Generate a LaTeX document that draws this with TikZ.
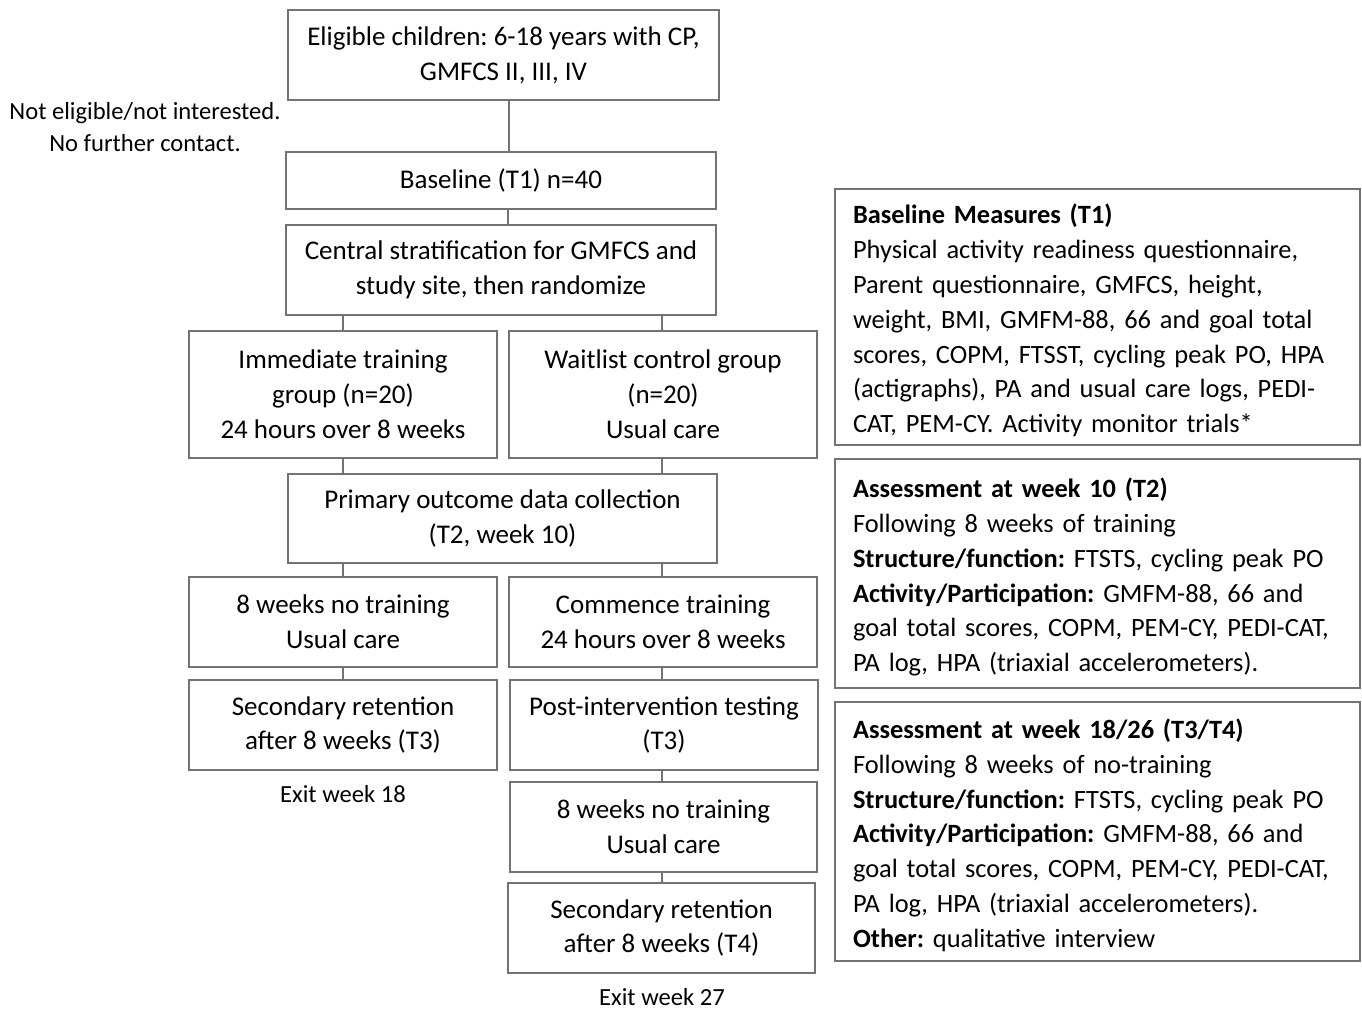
\documentclass[tikz,border=0pt]{standalone}
\usepackage{fontspec}
\setmainfont{Carlito}
\usetikzlibrary{calc}
\begin{document}
\begin{tikzpicture}[x=1pt,y=-1pt,
  every node/.style={font=\fontsize{27}{34.8}\selectfont\frenchspacing, text=black, inner sep=0pt},
  flowbox/.style={draw=black!55, line width=1.3pt, align=center, minimum width=#1},
  flowbox/.default=308,
  infobox/.style={draw=black!55, line width=1.3pt, align=left, text width=489, minimum width=525, inner xsep=18pt,
    font=\fontsize{26.4}{34.8}\selectfont\frenchspacing, execute at begin node={\rule{0pt}{27pt}}},
  link/.style={draw=black!55, line width=1.3pt},
  plain/.style={align=center, font=\fontsize{24.6}{32}\selectfont\frenchspacing}]
\useasboundingbox (0,0) rectangle (1362,1009);
\fill[white] (0,0) rectangle (1362,1009);

% left flow
\node[flowbox=431, minimum height=90] (elig) at (503.5,55) {Eligible children: 6-18 years with CP,\\GMFCS II, III, IV};
\node[plain] (notel) at (145,127) {Not eligible/not interested.\\No further contact.};
\node[flowbox=430, minimum height=57] (base) at (501,180.5) {Baseline (T1) n=40};
\node[flowbox=430, minimum height=90] (strat) at (501,270) {Central stratification for GMFCS and\\study site, then randomize};
\node[flowbox, minimum height=127] (imm) at (343,394.5) {Immediate training\\group (n=20)\\24 hours over 8 weeks};
\node[flowbox, minimum height=127] (wait) at (663,394.5) {Waitlist control group\\(n=20)\\Usual care};
\node[flowbox=429, minimum height=89] (prim) at (502.5,518.5) {Primary outcome data collection\\(T2, week 10)};
\node[flowbox, minimum height=90] (nt1) at (343,622) {8 weeks no training\\Usual care};
\node[flowbox, minimum height=90] (comm) at (663,622) {Commence training\\24 hours over 8 weeks};
\node[flowbox, minimum height=90] (sec1) at (343,725) {Secondary retention\\after 8 weeks (T3)};
\node[flowbox, minimum height=90] (post) at (664,725) {Post-intervention testing\\(T3)};
\node[flowbox=307, minimum height=90] (nt2) at (663.5,827) {8 weeks no training\\Usual care};
\node[flowbox=307, minimum height=90] (sec2) at (661.5,928) {Secondary retention\\after 8 weeks (T4)};
\node[plain] (exit18) at (343,794) {Exit week 18};
\node[plain] (exit27) at (662,997) {Exit week 27};

% connectors
\draw[link] ([xshift=5.5pt]elig.south) -- ([xshift=5.5pt]elig.south |- base.north);
\draw[link] ([xshift=7pt]base.south) -- ([xshift=7pt]base.south |- strat.north);
\draw[link] (imm.north |- strat.south) -- (imm.north);
\draw[link] ([xshift=-1pt]wait.north |- strat.south) -- ([xshift=-1pt]wait.north);
\draw[link] (imm.south) -- (imm.south |- prim.north);
\draw[link] ([xshift=-1pt]wait.south) -- ([xshift=-1pt]wait.south |- prim.north);
\draw[link] (nt1.north |- prim.south) -- (nt1.north);
\draw[link] ([xshift=-1pt]comm.north |- prim.south) -- ([xshift=-1pt]comm.north);
\draw[link] (nt1.south) -- (nt1.south |- sec1.north);
\draw[link] ([xshift=-1pt]comm.south) -- ([xshift=-1pt]comm.south |- post.north);
\draw[link] ([xshift=-2pt]post.south) -- ([xshift=-2pt]post.south |- nt2.north);
\draw[link] ([xshift=-1.5pt]nt2.south) -- ([xshift=-1.5pt]nt2.south |- sec2.north);

% right info boxes
\node[infobox, minimum height=256] (m1) at (1097.5,317) {\textbf{Baseline Measures (T1)}\\
Physical activity readiness questionnaire,\\
Parent questionnaire, GMFCS, height,\\
weight, BMI, GMFM-88, 66 and goal total\\
scores, COPM, FTSST, cycling peak PO, HPA\\
(actigraphs), PA and usual care logs, PEDI-\\
CAT, PEM-CY. Activity monitor trials*};
\node[infobox, minimum height=229] (m2) at (1097.5,573.5) {\textbf{Assessment at week 10 (T2)}\\
Following 8 weeks of training\\
\textbf{Structure/function:} FTSTS, cycling peak PO\\
\textbf{Activity/Participation:} GMFM-88, 66 and\\
goal total scores, COPM, PEM-CY, PEDI-CAT,\\
PA log, HPA (triaxial accelerometers).};
\node[infobox, minimum height=259] (m3) at (1097.5,831.5) {\textbf{Assessment at week 18/26 (T3/T4)}\\
Following 8 weeks of no-training\\
\textbf{Structure/function:} FTSTS, cycling peak PO\\
\textbf{Activity/Participation:} GMFM-88, 66 and\\
goal total scores, COPM, PEM-CY, PEDI-CAT,\\
PA log, HPA (triaxial accelerometers).\\
\textbf{Other:} qualitative interview};
\end{tikzpicture}
\end{document}
